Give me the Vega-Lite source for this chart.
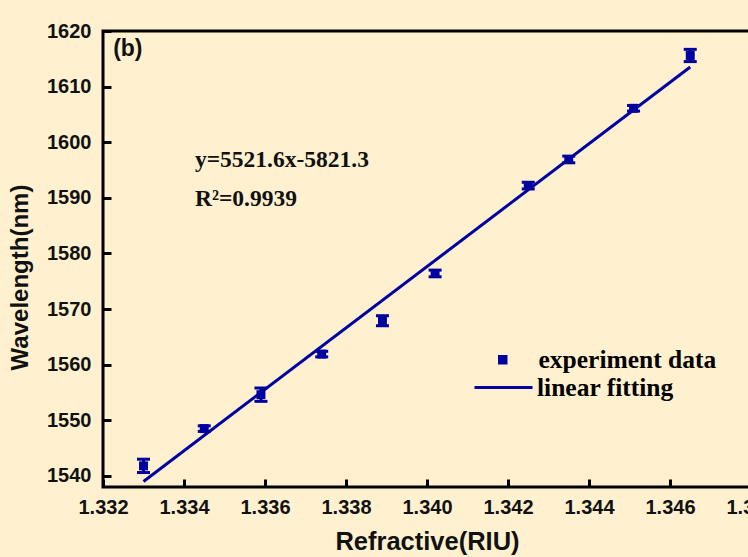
{
  "$schema": "https://vega.github.io/schema/vega-lite/v6.json",
  "width": 648,
  "height": 456,
  "autosize": {"type": "none"},
  "padding": {"left": 103, "top": 31, "right": 0, "bottom": 70},
  "config": {
    "background": "#FFF1D0",
    "view": {"stroke": "#000000", "strokeWidth": 3},
    "font": "Liberation Sans"
  },
  "datasets": {
    "measured": [
      {"n": 1.3330, "wl": 1541.8, "lo": 1540.6, "hi": 1543.0, "series": "experiment data"},
      {"n": 1.3345, "wl": 1548.5, "lo": 1548.0, "hi": 1549.0, "series": "experiment data"},
      {"n": 1.3359, "wl": 1554.6, "lo": 1553.4, "hi": 1555.8, "series": "experiment data"},
      {"n": 1.3374, "wl": 1561.9, "lo": 1561.4, "hi": 1562.4, "series": "experiment data"},
      {"n": 1.3389, "wl": 1567.9, "lo": 1567.0, "hi": 1568.8, "series": "experiment data"},
      {"n": 1.3402, "wl": 1576.4, "lo": 1575.8, "hi": 1577.0, "series": "experiment data"},
      {"n": 1.3425, "wl": 1592.2, "lo": 1591.6, "hi": 1592.8, "series": "experiment data"},
      {"n": 1.3435, "wl": 1596.9, "lo": 1596.3, "hi": 1597.5, "series": "experiment data"},
      {"n": 1.3451, "wl": 1606.1, "lo": 1605.6, "hi": 1606.6, "series": "experiment data"},
      {"n": 1.3465, "wl": 1615.6, "lo": 1614.5, "hi": 1616.7, "series": "experiment data"}
    ],
    "fit": [
      {"n": 1.3330, "wl": 1538.99, "series": "linear fitting"},
      {"n": 1.3465, "wl": 1613.53, "series": "linear fitting"}
    ],
    "panel": [
      {"n": 1.33225, "wl": 1615.5, "label": "(b)"}
    ],
    "equation": [
      {"n": 1.33427, "wl": 1595.5, "label": "y=5521.6x-5821.3"},
      {"n": 1.33427, "wl": 1588.5, "label": "R²=0.9939"}
    ]
  },
  "encoding": {
    "x": {
      "field": "n",
      "type": "quantitative",
      "scale": {"domain": [1.332, 1.348], "zero": false, "nice": false},
      "axis": {
        "title": "Refractive(RIU)",
        "values": [1.332, 1.334, 1.336, 1.338, 1.34, 1.342, 1.344, 1.346, 1.348],
        "format": ".3f",
        "grid": false,
        "domain": false,
        "labelFlush": false,
        "labelOverlap": false,
        "labelFont": "Liberation Sans",
        "labelFontWeight": "bold",
        "labelFontSize": 20,
        "labelColor": "#111111",
        "labelBaseline": "alphabetic",
        "labelPadding": 34,
        "tickColor": "#000000",
        "tickWidth": 3,
        "tickSize": -8,
        "titleFont": "Liberation Sans",
        "titleFontWeight": "bold",
        "titleFontSize": 25.5,
        "titleColor": "#111111",
        "titleBaseline": "alphabetic",
        "titleY": 62
      }
    },
    "y": {
      "field": "wl",
      "type": "quantitative",
      "scale": {"domain": [1538, 1620], "zero": false, "nice": false},
      "axis": {
        "title": "Wavelength(nm)",
        "values": [1540, 1550, 1560, 1570, 1580, 1590, 1600, 1610, 1620],
        "format": "d",
        "grid": false,
        "domain": false,
        "labelFlush": false,
        "labelOverlap": false,
        "labelFont": "Liberation Sans",
        "labelFontWeight": "bold",
        "labelFontSize": 20,
        "labelColor": "#111111",
        "labelPadding": 20,
        "tickColor": "#000000",
        "tickWidth": 3,
        "tickSize": -8,
        "titleFont": "Liberation Sans",
        "titleFontWeight": "bold",
        "titleFontSize": 24,
        "titleColor": "#111111",
        "titleAngle": -90,
        "titleBaseline": "middle",
        "titleX": -83,
        "titleY": 246
      }
    }
  },
  "layer": [
    {
      "data": {"name": "measured"},
      "mark": {"type": "rule", "color": "#0000A0", "strokeWidth": 3},
      "encoding": {"y": {"field": "lo", "type": "quantitative"}, "y2": {"field": "hi"}}
    },
    {
      "data": {"name": "measured"},
      "mark": {"type": "tick", "orient": "horizontal", "color": "#0000A0", "size": 13, "thickness": 3, "opacity": 1},
      "encoding": {"y": {"field": "lo", "type": "quantitative"}}
    },
    {
      "data": {"name": "measured"},
      "mark": {"type": "tick", "orient": "horizontal", "color": "#0000A0", "size": 13, "thickness": 3, "opacity": 1},
      "encoding": {"y": {"field": "hi", "type": "quantitative"}}
    },
    {
      "data": {"name": "fit"},
      "mark": {"type": "line", "strokeWidth": 3},
      "encoding": {
        "stroke": {
          "field": "series",
          "type": "nominal",
          "scale": {"domain": ["linear fitting"], "range": ["#0000A0"]},
          "legend": {
            "title": null,
            "orient": "none",
            "legendX": 370,
            "legendY": 326,
            "padding": 0,
            "labelFont": "Liberation Serif",
            "labelFontWeight": "bold",
            "labelFontSize": 25.5,
            "labelColor": "#000000",
            "labelLimit": 0,
            "labelOffset": 3,
            "symbolType": "stroke",
            "symbolSize": 3364,
            "symbolStrokeWidth": 3
          }
        }
      }
    },
    {
      "data": {"name": "measured"},
      "mark": {"type": "point", "shape": "square", "filled": true, "size": 80, "opacity": 1},
      "encoding": {
        "fill": {
          "field": "series",
          "type": "nominal",
          "scale": {"domain": ["experiment data"], "range": ["#0000A0"]},
          "legend": {
            "title": null,
            "orient": "none",
            "legendX": 387,
            "legendY": 316,
            "padding": 0,
            "labelFont": "Liberation Serif",
            "labelFontWeight": "bold",
            "labelFontSize": 25.5,
            "labelColor": "#000000",
            "labelLimit": 0,
            "labelOffset": 23,
            "symbolType": "square",
            "symbolSize": 90,
            "symbolStrokeWidth": 0,
            "symbolOpacity": 1
          }
        }
      }
    },
    {
      "data": {"name": "panel"},
      "mark": {"type": "text", "align": "left", "baseline": "alphabetic", "font": "Liberation Sans", "fontWeight": "bold", "fontSize": 23, "color": "#111111"},
      "encoding": {"text": {"field": "label"}}
    },
    {
      "data": {"name": "equation"},
      "mark": {"type": "text", "align": "left", "baseline": "alphabetic", "font": "Liberation Serif", "fontWeight": "bold", "fontSize": 23.5, "color": "#111111"},
      "encoding": {"text": {"field": "label"}}
    }
  ]
}
